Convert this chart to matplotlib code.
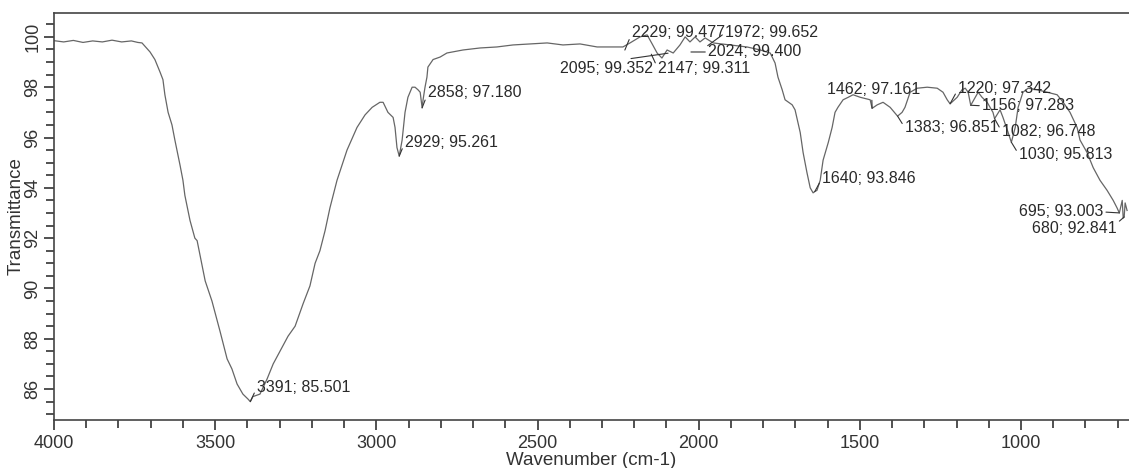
import numpy as np
import matplotlib.pyplot as plt
from matplotlib.ticker import MultipleLocator

plt.rcParams['font.family'] = ['Liberation Sans', 'DejaVu Sans']

# FTIR spectrum (wavenumber cm-1, transmittance %)
wavenumber = [4000, 3970, 3940, 3910, 3880, 3850, 3820, 3790, 3760, 3740, 3727,
              3702, 3687, 3671, 3662, 3656, 3646, 3634, 3625, 3609, 3600, 3594,
              3578, 3563, 3556, 3531, 3510, 3485, 3463, 3448, 3432, 3414, 3398,
              3391, 3383, 3361, 3339, 3320, 3299, 3274, 3252, 3227, 3206, 3190,
              3175, 3159, 3144, 3122, 3091, 3060, 3035, 3013, 2989, 2979, 2964,
              2948, 2942, 2936, 2929, 2920, 2911, 2902, 2889, 2880, 2871, 2864,
              2858, 2855, 2849, 2843, 2840, 2824, 2802, 2781, 2731, 2678, 2626,
              2576, 2523, 2470, 2421, 2368, 2315, 2266, 2235, 2213, 2182, 2160,
              2146, 2129, 2114, 2098, 2079, 2058, 2042, 2027, 2011, 1996, 1980,
              1955, 1903, 1850, 1809, 1778, 1763, 1754, 1741, 1732, 1710, 1701,
              1685, 1676, 1664, 1654, 1645, 1640, 1633, 1623, 1614, 1598, 1586,
              1577, 1568, 1552, 1536, 1521, 1499, 1468, 1462, 1446, 1428, 1406,
              1383, 1369, 1360, 1344, 1322, 1291, 1260, 1242, 1229, 1220, 1198,
              1183, 1173, 1164, 1156, 1142, 1133, 1121, 1105, 1087, 1082, 1065,
              1056, 1040, 1030, 1018, 1009, 994, 978, 950, 919, 888, 869, 848,
              826, 817, 795, 776, 755, 733, 714, 702, 695, 686, 683, 680, 677, 671]
transmittance = [99.85, 99.8, 99.86, 99.78, 99.84, 99.8, 99.87, 99.8, 99.84, 99.78, 99.76,
                 99.4, 99.1, 98.6, 98.3, 97.7, 97.0, 96.5, 95.9, 94.9, 94.3, 93.7,
                 92.7, 92.0, 91.9, 90.3, 89.5, 88.3, 87.2, 86.8, 86.2, 85.8, 85.6,
                 85.5, 85.7, 85.8, 86.4, 87.0, 87.5, 88.1, 88.5, 89.4, 90.1, 91.0,
                 91.5, 92.3, 93.2, 94.3, 95.5, 96.4, 96.9, 97.2, 97.4, 97.4, 97.0,
                 96.8, 96.4, 95.6, 95.26, 95.9, 97.0, 97.6, 98.0, 98.0, 97.9, 97.8,
                 97.18, 97.5, 98.0, 98.4, 98.8, 99.1, 99.2, 99.36, 99.48, 99.56, 99.6,
                 99.68, 99.72, 99.76, 99.68, 99.72, 99.6, 99.6, 99.6, 99.76, 100.0, 100.08,
                 99.76, 99.36, 99.16, 99.48, 99.36, 99.68, 100.0, 99.8, 100.0, 99.8, 99.96,
                 99.76, 99.68, 99.6, 99.48, 99.36, 98.96, 98.4, 97.9, 97.5, 97.3, 97.1,
                 96.2, 95.4, 94.6, 94.0, 93.8, 93.85, 93.9, 94.3, 95.1, 95.8, 96.4,
                 97.0, 97.2, 97.5, 97.6, 97.7, 97.6, 97.5, 97.16, 97.3, 97.4, 97.2,
                 96.85, 97.0, 97.2, 97.8, 97.96, 98.0, 97.96, 97.8, 97.5, 97.34, 97.6,
                 97.9, 97.96, 97.8, 97.28, 97.6, 97.8, 97.6, 97.4, 97.0, 96.75, 97.1,
                 96.8, 96.2, 95.81, 96.4, 97.2, 97.8, 97.96, 97.9, 97.8, 97.7, 97.4, 97.0,
                 96.4, 95.9, 95.4, 94.8, 94.3, 93.9, 93.5, 93.2, 93.0, 93.5, 92.8, 92.84, 93.4, 93.1]

# peak labels: text, peak position, text anchor (left edge / centre)
peak_labels = ["3391; 85.501", "2929; 95.261", "2858; 97.180", "2095; 99.352",
               "2147; 99.311", "2229; 99.477", "1972; 99.652", "2024; 99.400",
               "1640; 93.846", "1462; 97.161", "1383; 96.851", "1220; 97.342",
               "1156; 97.283", "1082; 96.748", "1030; 95.813", "695; 93.003",
               "680; 92.841"]
peak_x = [3391, 2929, 2858, 2095, 2147, 2229, 1972, 2024, 1640, 1462, 1383,
          1220, 1156, 1082, 1030, 695, 680]
peak_y = [85.501, 95.261, 97.180, 99.352, 99.311, 99.477, 99.652, 99.400, 93.846,
          97.161, 96.851, 97.342, 97.283, 96.748, 95.813, 93.003, 92.841]
text_x = [3370, 2911, 2840, 2430, 2126, 2207, 1918, 1971, 1617, 1602, 1360,
          1195, 1121, 1059, 1006, 745, 966]
text_y = [86.08, 95.82, 97.77, 98.73, 98.73, 100.16, 100.16, 99.40, 94.39, 97.89,
          96.38, 97.93, 97.26, 96.22, 95.31, 93.04, 92.40]

fig = plt.figure(figsize=(11.29, 4.68), dpi=100)
ax = fig.add_axes([54 / 1129, 48 / 468, 1 - 54 / 1129, 407 / 468])

ax.plot(wavenumber, transmittance, color='#666666', lw=0.9)

for lab, px, py, tx, ty in zip(peak_labels, peak_x, peak_y, text_x, text_y):
    ha = 'left'
    rp = (0, 0.5)
    if lab.startswith('695'):
        ha, rp = 'right', (1, 0.5)
    elif lab.startswith('680'):
        rp = (1, 0.8)
    elif lab.startswith('1462'):
        rp = (0.48, 0.1)
    ax.annotate(lab, xy=(px, py), xytext=(tx, ty), ha=ha, va='center',
                fontsize=11.5, color='#2a2a2a',
                arrowprops=dict(arrowstyle='-', color='#333333', lw=0.8,
                                shrinkA=0, shrinkB=0, relpos=rp))

ax.set_xlim(4000, 665)
ax.set_ylim(84.77, 100.95)
ax.xaxis.set_major_locator(MultipleLocator(500))
ax.xaxis.set_minor_locator(MultipleLocator(100))
ax.yaxis.set_major_locator(MultipleLocator(2))
ax.yaxis.set_minor_locator(MultipleLocator(0.5))

for s in ['left', 'bottom', 'top']:
    ax.spines[s].set_color('#444444')
    ax.spines[s].set_linewidth(1.2)
ax.spines['right'].set_visible(False)

ax.tick_params(which='both', direction='out', color='#333333', width=1.2,
               labelsize=13, labelcolor='#333333')
ax.tick_params(which='major', length=7, pad=4)
ax.tick_params(which='minor', length=6)
ax.tick_params(axis='y', labelrotation=90, pad=2)
for t in ax.get_yticklabels():
    t.set_va('center')

ax.set_xlabel("Wavenumber (cm-1)", fontsize=13.5, color='#333333', labelpad=0)
ax.set_ylabel("Transmittance", fontsize=13.5, color='#333333', labelpad=0)

fig.savefig("out.png", dpi=100)
